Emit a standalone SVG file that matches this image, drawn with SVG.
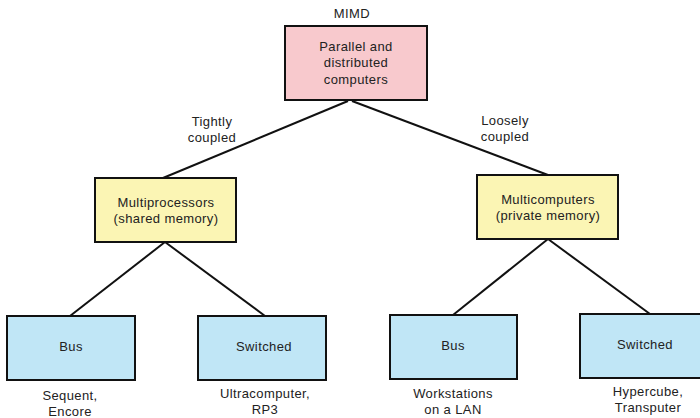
<svg xmlns="http://www.w3.org/2000/svg" width="700" height="418" viewBox="0 0 700 418">
<style>
text{font-family:"Liberation Sans",Arial,sans-serif;font-size:13px;fill:#222;text-anchor:middle;letter-spacing:0.4px}
.box{stroke:#111;stroke-width:2}
.pink{fill:#f8c9cd}
.yellow{fill:#fbf5b4}
.blue{fill:#c0e6f6}
.conn line{stroke:#111;stroke-width:2}
</style>
<rect width="700" height="418" fill="#fff"/>
<g id="connectors" class="conn">
<line x1="348" y1="101" x2="163" y2="178"/>
<line x1="352" y1="101" x2="548" y2="175"/>
<line x1="165" y1="242" x2="70" y2="316"/>
<line x1="165" y1="242" x2="265" y2="316"/>
<line x1="548" y1="239" x2="453" y2="315"/>
<line x1="548" y1="239" x2="650" y2="314"/>
</g>
<g id="mimd-label"><text x="352" y="18">MIMD</text></g>
<g id="parallel">
<rect class="box pink" x="285" y="26" width="142" height="74"/>
<text x="356" y="51">Parallel and</text>
<text x="356" y="67">distributed</text>
<text x="356" y="84">computers</text>
</g>
<g id="tightly-label"><text x="212" y="126">Tightly</text><text x="212" y="142">coupled</text></g>
<g id="loosely-label"><text x="505" y="125">Loosely</text><text x="505" y="141">coupled</text></g>
<g id="multiprocessors">
<rect class="box yellow" x="95" y="178" width="141" height="64"/>
<text x="166" y="207">Multiprocessors</text>
<text x="166" y="223">(shared memory)</text>
</g>
<g id="multicomputers">
<rect class="box yellow" x="477" y="175" width="141" height="64"/>
<text x="548" y="204">Multicomputers</text>
<text x="548" y="220">(private memory)</text>
</g>
<g id="bus-left">
<rect class="box blue" x="7" y="316" width="128" height="64"/>
<text x="71" y="351">Bus</text>
</g>
<g id="switched-left">
<rect class="box blue" x="198" y="316" width="128" height="64"/>
<text x="264" y="351">Switched</text>
</g>
<g id="bus-right">
<rect class="box blue" x="390" y="315" width="127" height="64"/>
<text x="453" y="350">Bus</text>
</g>
<g id="switched-right">
<rect class="box blue" x="580" y="314" width="130" height="64"/>
<text x="645" y="349">Switched</text>
</g>
<g id="captions">
<text x="70" y="400">Sequent,</text><text x="70" y="416">Encore</text>
<text x="265" y="398">Ultracomputer,</text><text x="265" y="414">RP3</text>
<text x="453" y="398">Workstations</text><text x="453" y="414">on a LAN</text>
<text x="648" y="396">Hypercube,</text><text x="648" y="412">Transputer</text>
</g>
</svg>
